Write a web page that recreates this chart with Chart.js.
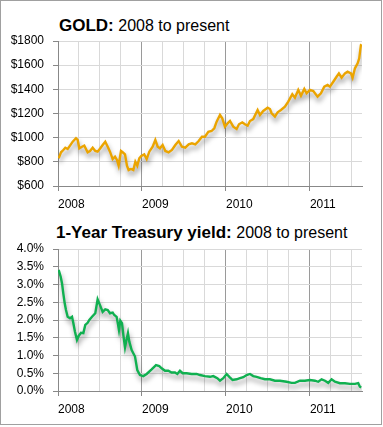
<!DOCTYPE html>
<html>
<head>
<meta charset="utf-8">
<script src="https://cdn.jsdelivr.net/npm/chart.js@4"></script>
<style>
  html,body{margin:0;padding:0;background:#fff;}
  body{width:383px;height:427px;position:relative;overflow:hidden;font-family:"Liberation Sans",Arial,sans-serif;}
  #frame{position:absolute;left:0;top:0;width:380px;height:423px;border:1px solid #a0a0a0;pointer-events:none;}
  .ttl{position:absolute;white-space:nowrap;font-size:16px;line-height:17px;color:#000;}
  .ttl b{font-size:17px;font-weight:bold;}
  canvas{position:absolute;left:0;}
</style>
</head>
<body>
<div class="ttl" style="left:59px;top:17px"><b>GOLD:</b> 2008 to present</div>
<div class="ttl" style="left:56px;top:224px"><b>1-Year Treasury yield:</b> 2008 to present</div>
<canvas id="gold" width="383" height="215" style="top:0"></canvas>
<canvas id="tsy" width="383" height="208" style="top:215px"></canvas>
<div id="frame"></div>
<script>
// ---- data (dates as decimal years) ----
const goldDates = [2008.008,2008.036,2008.063,2008.087,2008.115,2008.143,2008.175,2008.214,2008.234,2008.254,2008.286,2008.313,2008.353,2008.381,2008.413,2008.444,2008.472,2008.504,2008.532,2008.563,2008.592,2008.619,2008.651,2008.679,2008.702,2008.722,2008.750,2008.770,2008.798,2008.821,2008.841,2008.869,2008.897,2008.921,2008.944,2008.968,2008.992,2009.027,2009.056,2009.087,2009.127,2009.159,2009.187,2009.214,2009.246,2009.278,2009.317,2009.357,2009.397,2009.437,2009.476,2009.516,2009.556,2009.595,2009.635,2009.675,2009.714,2009.750,2009.790,2009.829,2009.861,2009.889,2009.929,2009.956,2009.988,2010.020,2010.048,2010.087,2010.127,2010.155,2010.194,2010.226,2010.258,2010.286,2010.325,2010.377,2010.405,2010.444,2010.496,2010.524,2010.544,2010.583,2010.615,2010.655,2010.702,2010.742,2010.790,2010.821,2010.861,2010.893,2010.933,2010.960,2011.000,2011.040,2011.091,2011.131,2011.171,2011.210,2011.238,2011.278,2011.317,2011.345,2011.377,2011.417,2011.448,2011.488,2011.508,2011.536,2011.568,2011.587,2011.607,2011.615];
const goldPrices = [829,879,898,917,906,934,967,995,981,912,925,934,879,890,917,890,884,912,939,967,925,884,823,843,815,768,890,879,862,768,732,741,732,801,768,829,848,862,823,884,925,981,925,912,939,890,879,898,939,972,925,917,945,953,945,972,1008,1008,1049,1055,1078,1132,1188,1160,1091,1119,1138,1091,1072,1111,1127,1111,1099,1138,1154,1229,1188,1221,1248,1237,1202,1174,1210,1229,1256,1298,1359,1331,1395,1347,1403,1367,1395,1386,1339,1367,1422,1436,1422,1463,1504,1532,1496,1532,1546,1532,1496,1574,1615,1657,1767,1773];

const tsyDates = [2008.008,2008.032,2008.048,2008.063,2008.080,2008.095,2008.115,2008.143,2008.167,2008.183,2008.202,2008.226,2008.246,2008.274,2008.302,2008.325,2008.353,2008.373,2008.405,2008.444,2008.472,2008.500,2008.532,2008.563,2008.592,2008.619,2008.651,2008.670,2008.698,2008.714,2008.726,2008.742,2008.762,2008.778,2008.798,2008.817,2008.833,2008.849,2008.877,2008.917,2008.944,2008.976,2009.016,2009.056,2009.115,2009.167,2009.206,2009.234,2009.274,2009.313,2009.353,2009.393,2009.421,2009.452,2009.484,2009.532,2009.591,2009.651,2009.690,2009.750,2009.810,2009.849,2009.897,2009.929,2009.968,2010.008,2010.040,2010.079,2010.127,2010.167,2010.206,2010.246,2010.286,2010.325,2010.365,2010.413,2010.464,2010.524,2010.583,2010.643,2010.722,2010.782,2010.821,2010.881,2010.940,2011.000,2011.060,2011.099,2011.139,2011.179,2011.218,2011.258,2011.298,2011.357,2011.417,2011.476,2011.536,2011.575,2011.595,2011.611];
const tsyYields = [3.41,3.22,3.03,2.75,2.47,2.28,2.09,2.05,2.09,1.91,1.67,1.44,1.55,1.64,1.63,1.86,1.92,2.00,2.09,2.19,2.58,2.42,2.23,2.30,2.28,2.19,2.21,2.14,2.09,1.89,1.72,1.98,1.91,1.58,1.23,1.46,1.63,1.39,1.15,0.97,0.59,0.45,0.42,0.48,0.61,0.73,0.70,0.64,0.57,0.57,0.52,0.52,0.48,0.57,0.50,0.50,0.48,0.48,0.45,0.42,0.40,0.42,0.36,0.29,0.36,0.48,0.40,0.31,0.33,0.36,0.39,0.45,0.48,0.42,0.40,0.36,0.33,0.33,0.29,0.29,0.26,0.23,0.23,0.29,0.29,0.31,0.29,0.26,0.33,0.29,0.23,0.33,0.26,0.22,0.22,0.20,0.20,0.22,0.12,0.10];

const goldTicks = [600,800,1000,1200,1400,1600,1800];
const tsyTicks = [0,0.5,1,1.5,2,2.5,3,3.5,4];
const yearLabels = [2008,2009,2010,2011];

const FONT = '"Liberation Sans", Arial, sans-serif';

const shadowPlugin = {
  id: 'lineShadow',
  beforeDatasetDraw(chart) {
    const c = chart.ctx;
    c.save();
    c.shadowColor = 'rgba(0,0,0,0.4)';
    c.shadowBlur = 5;
    c.shadowOffsetX = 1;
    c.shadowOffsetY = 4;
  },
  afterDatasetDraw(chart) { chart.ctx.restore(); }
};

function isYear(v){ return yearLabels.includes(Math.round(v*1000)/1000); }

function makeChart(id, dates, vals, yTicks, fmt, color, topPad, xHeight) {
  const pts = dates.map((d,i)=>({x:d, y:vals[i]}));
  return new Chart(document.getElementById(id), {
    type: 'line',
    data: { datasets: [{ data: pts, borderColor: color, borderWidth: 2.4, pointRadius: 0, tension: 0, fill: false }] },
    options: {
      responsive: false, animation: false, events: [],
      layout: { padding: { top: topPad, right: 21, left: 0, bottom: 0 } },
      plugins: { legend: { display: false }, tooltip: { enabled: false } },
      scales: {
        x: {
          type: 'linear', min: 2008, max: 2011.62,
          afterFit(s){ s.height = xHeight; },
          ticks: {
            stepSize: 0.25, includeBounds: false, autoSkip: false, maxRotation: 0, align: 'start',
            padding: 6, color: '#000', font: { family: FONT, size: 12 },
            callback: v => isYear(v) ? String(Math.round(v)) : ''
          },
          grid: {
            color: ctx => isYear(ctx.tick.value) ? '#9a9a9a' : '#d9d9d9',
            tickColor: ctx => isYear(ctx.tick.value) ? '#888' : 'rgba(0,0,0,0)',
            tickLength: 5, lineWidth: 1
          },
          border: { color: '#888', width: 1 }
        },
        y: {
          min: yTicks[0], max: yTicks[yTicks.length-1],
          afterFit(s){ s.width = 58; },
          afterBuildTicks(s){ s.ticks = yTicks.map(v=>({value:v})); },
          ticks: { padding: 9, color: '#000', font: { family: FONT, size: 12 }, callback: fmt },
          grid: { color: '#d9d9d9', tickColor: '#888', tickLength: 5, lineWidth: 1 },
          border: { color: '#888', width: 1 }
        }
      }
    },
    plugins: [shadowPlugin]
  });
}

makeChart('gold', goldDates, goldPrices, goldTicks, v => '$' + v, '#EBA400', 41, 29);
makeChart('tsy', tsyDates, tsyYields, tsyTicks, v => v.toFixed(1) + '%', '#10B050', 34, 32);
</script>
</body>
</html>
